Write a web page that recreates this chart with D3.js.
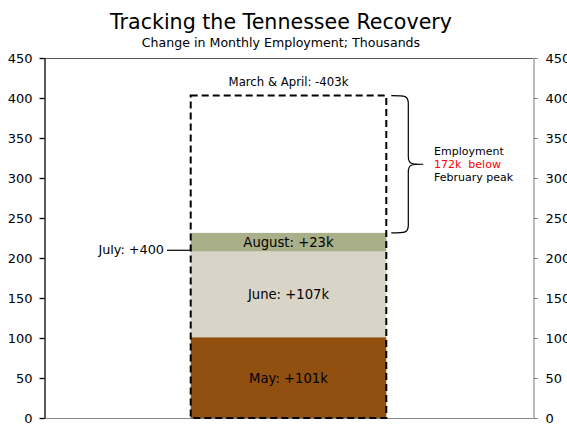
<!DOCTYPE html>
<html><head><meta charset="utf-8">
<script src="https://cdn.jsdelivr.net/npm/d3@7"></script>
<style>body{margin:0;background:#fff}svg{display:block;font-family:Verdana,"DejaVu Sans",sans-serif}</style>
</head><body>
<svg id="c" width="567" height="424"></svg>
<script>
const segNames = ["May", "June", "July", "August"];
const segValues = [101, 107, 0.4, 23];
const segLabels = ["May: +101k", "June: +107k", "", "August: +23k"];
const segColors = ["#91500F", "#D8D4C8", "#A9AF89", "#A9AF89"];
const lossValue = 403;
const tickValues = [0, 50, 100, 150, 200, 250, 300, 350, 400, 450];

const svg = d3.select("#c");
const L = 44, R = 533, T = 58, B = 418;
const y = d3.scaleLinear().domain([0, 450]).range([B, T]);
const x = d3.scaleBand().domain(["Tennessee"]).range([L, R]).paddingInner(0).paddingOuter(0.75);

svg.append("text").attr("x", 281).attr("y", 29).attr("text-anchor", "middle")
  .attr("font-size", 20.6).attr("fill", "#000").text("Tracking the Tennessee Recovery");
svg.append("text").attr("x", 281).attr("y", 47).attr("text-anchor", "middle")
  .attr("font-size", 12.6).attr("fill", "#000").text("Change in Monthly Employment; Thousands");

// frame lines
svg.append("line").attr("x1", L).attr("x2", R).attr("y1", T + 0.5).attr("y2", T + 0.5).attr("stroke", "#555");
svg.append("line").attr("x1", L).attr("x2", R).attr("y1", B + 0.5).attr("y2", B + 0.5).attr("stroke", "#888");

// stacked segments
let cum = 0;
const stack = segValues.map((v, i) => { const s = { name: segNames[i], y0: cum, y1: cum + v, label: segLabels[i], color: segColors[i] }; cum += v; return s; });
const bx = x("Tennessee"), bw = x.bandwidth();
svg.selectAll("rect.seg").data(stack).join("rect").attr("class", "seg")
  .attr("x", bx).attr("width", bw)
  .attr("y", d => y(d.y1)).attr("height", d => y(d.y0) - y(d.y1))
  .attr("fill", d => d.color);
svg.selectAll("text.seg").data(stack.filter(d => d.label)).join("text").attr("class", "seg")
  .attr("x", bx + bw / 2).attr("y", d => (y(d.y0) + y(d.y1)) / 2 + 5)
  .attr("text-anchor", "middle").attr("font-size", 13.2).attr("fill", "#000").text(d => d.label);

// dashed loss outline
svg.append("rect").attr("x", bx).attr("width", bw).attr("y", y(lossValue)).attr("height", y(0) - y(lossValue))
  .attr("fill", "none").attr("stroke", "#000").attr("stroke-width", 2).attr("stroke-dasharray", "7,4");
svg.append("text").attr("x", bx + bw / 2).attr("y", y(lossValue) - 10).attr("text-anchor", "middle")
  .attr("font-size", 11.7).text("March & April: -" + lossValue + "k");

// July callout
const julyY = y(stack[2].y1);
svg.append("line").attr("x1", 167).attr("x2", bx).attr("y1", julyY - 1).attr("y2", julyY - 1).attr("stroke", "#000").attr("stroke-width", 1.2);
svg.append("text").attr("x", 164).attr("y", julyY + 3).attr("text-anchor", "end").attr("font-size", 12.8).text("July: +400");

// brace
const bTop = y(lossValue), bBot = y(cum), bMid = (bTop + bBot) / 2, bxr = bx + bw + 5;
const bp = `M${bxr},${bTop} C${bxr + 14},${bTop} ${bxr + 17},${bTop} ${bxr + 17},${bTop + 8} L${bxr + 17},${bMid - 8} C${bxr + 17},${bMid} ${bxr + 20},${bMid} ${bxr + 32},${bMid} M${bxr + 32},${bMid} C${bxr + 20},${bMid} ${bxr + 17},${bMid} ${bxr + 17},${bMid + 8} L${bxr + 17},${bBot - 8} C${bxr + 17},${bBot} ${bxr + 14},${bBot} ${bxr},${bBot}`;
svg.append("path").attr("d", bp).attr("fill", "none").attr("stroke", "#000").attr("stroke-width", 1.2);
const tg = svg.append("text").attr("x", 434).attr("font-size", 11);
tg.append("tspan").attr("x", 434).attr("y", bMid - 9).attr("fill", "#000").text("Employment");
tg.append("tspan").attr("x", 434).attr("y", bMid + 4).attr("fill", "#ff0000").text("172k\u00a0 below");
tg.append("tspan").attr("x", 434).attr("y", bMid + 17).attr("fill", "#000").text("February peak");

// axes
const la = svg.append("g").attr("transform", `translate(${L + 0.5},0)`)
  .call(d3.axisLeft(y).tickValues(tickValues).tickSize(5).tickSizeOuter(0).tickPadding(7));
la.selectAll("path,line").attr("stroke", "#000").attr("stroke-width", 1.3);
la.selectAll("text").attr("font-size", 13).attr("fill", "#000").attr("font-family", 'Verdana,"DejaVu Sans",sans-serif');

const ra = svg.append("g").attr("transform", `translate(${R + 0.5},0)`)
  .call(d3.axisRight(y).tickValues(tickValues).tickSize(4).tickSizeOuter(0).tickPadding(8));
ra.selectAll("path,line").attr("stroke", "#777");
ra.selectAll("text").attr("font-size", 13).attr("fill", "#000").attr("font-family", 'Verdana,"DejaVu Sans",sans-serif');
</script>
</body></html>
